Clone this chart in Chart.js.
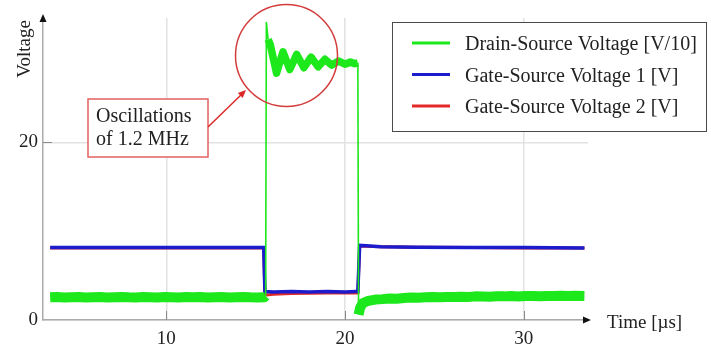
<!DOCTYPE html>
<html><head><meta charset="utf-8">
<script src="https://cdn.jsdelivr.net/npm/chart.js@4.4.1/dist/chart.umd.min.js"></script>
<style>html,body{margin:0;padding:0;background:#fff}#wrap{position:relative;width:711px;height:350px}</style>
</head><body><div id="wrap"><canvas id="c" width="711" height="350" style="width:711px;height:350px"></canvas></div>
<script>
// ---- data ----
const xTickValues = [10, 20, 30];
const yTickValues = [0, 20];
const seriesLabels = ["Drain-Source Voltage [V/10]", "Gate-Source Voltage 1 [V]", "Gate-Source Voltage 2 [V]"];
const xTitle = "Time [\u00b5s]";
const yTitle = "Voltage";
const noteLines = ["Oscillations", "of 1.2 MHz"];

const dsTime = [3.5,3.9,4.3,4.7,5.1,5.5,5.9,6.3,6.7,7.1,7.5,7.9,8.3,8.7,9.1,9.5,9.9,10.3,10.7,11.1,11.5,11.9,12.3,12.7,13.1,13.5,13.9,14.3,14.7,15.1,15.5,
  15.56,15.6,15.7,15.82,16.17,16.53,16.91,17.3,17.7,18.1,18.5,18.88,19.26,19.65,20.0,20.3,20.55,20.72,
  20.76,20.85,21.0,21.3,21.7,22.1,22.5,22.9,23.3,23.7,24.1,24.5,24.9,25.3,25.7,26.1,26.5,26.9,27.3,27.7,28.1,28.5,28.9,29.3,29.7,30.1,30.5,30.9,31.3,31.7,32.1,32.5,32.9,33.4];
const dsVolt = [2.55,2.58,2.53,2.57,2.6,2.54,2.56,2.58,2.53,2.57,2.6,2.55,2.53,2.58,2.57,2.54,2.6,2.56,2.53,2.58,2.55,2.6,2.54,2.57,2.58,2.53,2.56,2.6,2.55,2.54,2.57,
  2.7,33.5,31.6,31.0,27.8,30.2,28.2,29.9,28.4,29.6,28.5,29.35,28.7,29.15,28.8,29.05,28.85,28.95,
  0.6,1.4,1.9,2.15,2.3,2.35,2.42,2.4,2.48,2.52,2.5,2.55,2.58,2.55,2.6,2.6,2.63,2.6,2.66,2.64,2.62,2.68,2.66,2.69,2.65,2.7,2.71,2.67,2.71,2.7,2.73,2.69,2.72,2.7];

const gs1Time = [3.5,15.45,15.52,16.0,17.0,18.0,19.0,20.0,20.6,20.72,20.82,21.2,22.0,24.0,27.0,30.0,33.4];
const gs1Volt = [8.15,8.15,3.2,3.15,3.2,3.15,3.2,3.15,3.2,3.2,8.4,8.35,8.25,8.2,8.15,8.15,8.1];

const gs2Time = [3.5,15.45,15.52,16.0,17.0,18.0,19.0,20.0,20.6,20.72,20.82,21.2,22.0,24.0,27.0,30.0,33.4];
const gs2Volt = [8.1,8.1,2.8,2.9,2.98,3.02,3.03,3.05,3.05,3.05,8.3,8.3,8.25,8.2,8.15,8.12,8.1];

// ---- build ----
const pts = (xs, ys) => xs.map((x, i) => ({x, y: ys[i]}));
const FONT = "'Liberation Serif','Times New Roman',serif";
const TXT = '#222';
const GREEN = 'rgb(28,232,28)', BLUE = 'rgb(28,28,205)', RED = 'rgb(228,40,40)';

const greenWidth = (ctx) => {
  const dx = Math.abs(ctx.p1.x - ctx.p0.x), dy = Math.abs(ctx.p1.y - ctx.p0.y);
  if (dy / Math.max(dx, 0.01) > 6) return 1.6;
  return ctx.p0.parsed.y > 15 ? 7.5 : 10;
};

const overlay = {
  id: 'overlay',
  beforeDatasetsDraw(chart) {
    const c = chart.ctx, xs = chart.scales.x, ys = chart.scales.y, a = chart.chartArea;
    c.save();
    c.strokeStyle = '#8a8a8a'; c.lineWidth = 1;
    xTickValues.forEach(v => { const px = Math.round(xs.getPixelForValue(v)) + 0.5; c.beginPath(); c.moveTo(px, a.bottom); c.lineTo(px, a.bottom - 9); c.stroke(); });
    yTickValues.filter(v => v > 0).forEach(v => { const py = Math.round(ys.getPixelForValue(v)) + 0.5; c.beginPath(); c.moveTo(a.left, py); c.lineTo(a.left + 9, py); c.stroke(); });
    c.restore();
  },
  afterDraw(chart) {
    const c = chart.ctx, a = chart.chartArea;
    c.save();
    // axis arrows
    c.fillStyle = '#111';
    c.beginPath(); c.moveTo(a.right + 3, a.bottom); c.lineTo(a.right - 5, a.bottom - 3.5); c.lineTo(a.right - 5, a.bottom + 3.5); c.closePath(); c.fill();
    c.beginPath(); c.moveTo(a.left, a.top - 4); c.lineTo(a.left - 3.5, a.top + 4); c.lineTo(a.left + 3.5, a.top + 4); c.closePath(); c.fill();
    // axis titles
    c.fillStyle = TXT; c.font = '19px ' + FONT;
    c.textAlign = 'left'; c.textBaseline = 'alphabetic';
    c.fillText(xTitle, 607, 328);
    c.save(); c.translate(30, 49); c.rotate(-Math.PI / 2); c.textAlign = 'center'; c.fillText(yTitle, 0, 0); c.restore();
    // annotation circle
    c.strokeStyle = 'rgb(212,60,60)'; c.lineWidth = 1.5;
    c.beginPath(); c.arc(286.5, 55.5, 51, 0, Math.PI * 2); c.stroke();
    // annotation box
    c.fillStyle = '#fff'; c.fillRect(88, 99, 120, 58);
    c.strokeStyle = 'rgb(226,96,96)'; c.lineWidth = 1.5; c.strokeRect(88, 99, 120, 58);
    c.fillStyle = TXT; c.font = '20px ' + FONT;
    c.fillText(noteLines[0], 96, 122);
    c.fillText(noteLines[1], 96, 145);
    // arrow
    c.strokeStyle = 'rgb(222,40,40)'; c.fillStyle = 'rgb(222,40,40)'; c.lineWidth = 1.5;
    const x0 = 208, y0 = 127, x1 = 246, y1 = 90;
    const ang = Math.atan2(y1 - y0, x1 - x0);
    c.beginPath(); c.moveTo(x0, y0); c.lineTo(x1 - 6 * Math.cos(ang), y1 - 6 * Math.sin(ang)); c.stroke();
    c.beginPath(); c.moveTo(x1, y1);
    c.lineTo(x1 - 8 * Math.cos(ang) + 3.5 * Math.sin(ang), y1 - 8 * Math.sin(ang) - 3.5 * Math.cos(ang));
    c.lineTo(x1 - 8 * Math.cos(ang) - 3.5 * Math.sin(ang), y1 - 8 * Math.sin(ang) + 3.5 * Math.cos(ang));
    c.closePath(); c.fill();
    // legend
    c.fillStyle = '#fff'; c.fillRect(392, 22, 315, 110);
    c.strokeStyle = '#4a4a4a'; c.lineWidth = 1; c.strokeRect(392.5, 22.5, 314, 109);
    c.font = '20px ' + FONT;
    chart.data.datasets.forEach((d, i) => {
      const y = 43 + i * 31.5;
      c.strokeStyle = d.borderColor; c.lineWidth = 3;
      c.beginPath(); c.moveTo(412, y); c.lineTo(450, y); c.stroke();
      c.fillStyle = TXT; c.fillText(d.label, 465, y + 7);
    });
    c.restore();
  }
};

new Chart(document.getElementById('c'), {
  type: 'line',
  data: {
    datasets: [
      { label: seriesLabels[0], data: pts(dsTime, dsVolt), borderColor: GREEN, backgroundColor: GREEN, borderWidth: 10,
        borderJoinStyle: 'round', borderCapStyle: 'butt', pointRadius: 0, tension: 0, segment: { borderWidth: greenWidth } },
      { label: seriesLabels[1], data: pts(gs1Time, gs1Volt), borderColor: BLUE, backgroundColor: BLUE, borderWidth: 3.5, pointRadius: 0, tension: 0 },
      { label: seriesLabels[2], data: pts(gs2Time, gs2Volt), borderColor: RED, backgroundColor: RED, borderWidth: 3, pointRadius: 0, tension: 0 }
    ]
  },
  options: {
    responsive: false, animation: false, events: [],
    layout: { padding: { left: 0, top: 18, right: 123, bottom: 0 } },
    plugins: { legend: { display: false }, tooltip: { enabled: false } },
    scales: {
      x: { type: 'linear', min: 3.1, max: 33.6,
        afterBuildTicks: s => { s.ticks = xTickValues.map(v => ({value: v})); },
        afterFit: s => { s.height = 30; },
        grid: { color: '#e2e2e2', lineWidth: 1.5, drawTicks: false },
        border: { color: '#ababab', width: 1.5 },
        ticks: { padding: 8, autoSkip: false, maxRotation: 0, color: TXT, font: { family: FONT, size: 19 } } },
      y: { type: 'linear', min: 0, max: 34,
        afterBuildTicks: s => { s.ticks = yTickValues.map(v => ({value: v})); },
        afterFit: s => { s.width = 43; },
        grid: { color: '#e2e2e2', lineWidth: 1.5, drawTicks: false },
        border: { color: '#ababab', width: 1.5 },
        ticks: { padding: 5, color: TXT, font: { family: FONT, size: 19 } } }
    }
  },
  plugins: [overlay]
});
</script></body></html>
